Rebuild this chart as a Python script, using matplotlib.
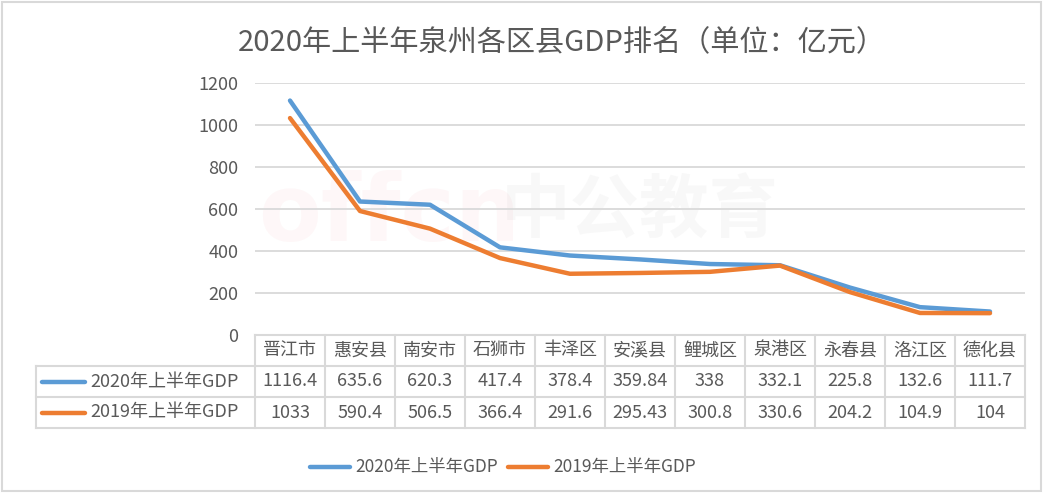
import matplotlib
matplotlib.use("Agg")
import matplotlib.pyplot as plt
import numpy as np

plt.rcParams['font.family'] = ['Noto Sans CJK SC', 'DejaVu Sans']

districts = ['晋江市', '惠安县', '南安市', '石狮市', '丰泽区', '安溪县',
             '鲤城区', '泉港区', '永春县', '洛江区', '德化县']
gdp_2020 = [1116.4, 635.6, 620.3, 417.4, 378.4, 359.84, 338, 332.1, 225.8, 132.6, 111.7]
gdp_2019 = [1033, 590.4, 506.5, 366.4, 291.6, 295.43, 300.8, 330.6, 204.2, 104.9, 104]
gdp_2020_txt = ['1116.4', '635.6', '620.3', '417.4', '378.4', '359.84', '338', '332.1', '225.8', '132.6', '111.7']
gdp_2019_txt = ['1033', '590.4', '506.5', '366.4', '291.6', '295.43', '300.8', '330.6', '204.2', '104.9', '104']
series_names = ['2020年上半年GDP', '2019年上半年GDP']
colors = ['#5B9BD5', '#ED7D31']
text_c = '#595959'
grid_c = '#D9D9D9'

W, H = 1047, 500
fig = plt.figure(figsize=(W / 100, H / 100), dpi=100)

# overlay axes in pixel units for frame, table and legend
ov = fig.add_axes([0, 0, 1, 1])
ov.set_xlim(0, W)
ov.set_ylim(H, 0)
ov.axis('off')
ov.add_patch(plt.Rectangle((1.5, 1.5), 1039, 489, fill=False, ec=grid_c, lw=1.5))

# watermark
ov.text(258, 215, 'offcn', fontsize=66, color='#E8303A', alpha=0.035,
        ha='left', va='center', fontweight='bold', family='DejaVu Sans')
ov.text(640, 212, '中公教育', fontsize=50, color='#808080', alpha=0.05,
        ha='center', va='center', fontweight='bold')

ov.text(562, 42, '2020年上半年泉州各区县GDP排名（单位：亿元）', fontsize=21,
        color=text_c, ha='center', va='center')

# plot area
x0, x1, ytop, ybot = 255, 1025, 83, 335
ax = fig.add_axes([x0 / W, 1 - ybot / H, (x1 - x0) / W, (ybot - ytop) / H])
ax.patch.set_alpha(0)
x = np.arange(len(districts))
ax.plot(x, gdp_2020, color=colors[0], lw=3.2, solid_capstyle='round', zorder=3)
ax.plot(x, gdp_2019, color=colors[1], lw=3.2, solid_capstyle='round', zorder=3)
ax.set_xlim(-0.5, len(districts) - 0.5)
ax.set_ylim(0, 1200)
ax.set_yticks(range(0, 1201, 200))
ax.set_xticks([])
ax.yaxis.grid(True, color=grid_c, lw=1.3)
ax.set_axisbelow(True)
for s in ax.spines.values():
    s.set_visible(False)
ax.tick_params(axis='y', length=0, labelsize=13, labelcolor=text_c, pad=12)

# data table
cw = (x1 - x0) / len(districts)
rows = [335, 366, 397, 428]
lx = 36
for yy in rows[1:]:
    ov.plot([lx, x1], [yy, yy], color=grid_c, lw=1.5)
ov.plot([x0, x1], [rows[0], rows[0]], color=grid_c, lw=1.5)
ov.plot([lx, lx], [rows[1], rows[3]], color=grid_c, lw=1.5)
for i in range(len(districts) + 1):
    xx = x0 + i * cw
    ov.plot([xx, xx], [rows[0], rows[3]], color=grid_c, lw=1.5)

for i, name in enumerate(districts):
    cx = x0 + (i + 0.5) * cw
    ov.text(cx, (rows[0] + rows[1]) / 2, name, fontsize=13, color=text_c, ha='center', va='center')
    ov.text(cx, (rows[1] + rows[2]) / 2, gdp_2020_txt[i], fontsize=13, color=text_c, ha='center', va='center')
    ov.text(cx, (rows[2] + rows[3]) / 2, gdp_2019_txt[i], fontsize=13, color=text_c, ha='center', va='center')

for r, (name, c) in enumerate(zip(series_names, colors)):
    yc = (rows[r + 1] + rows[r + 2]) / 2
    ov.plot([42, 85], [yc, yc], color=c, lw=3.2, solid_capstyle='round')
    ov.text(90, yc, name, fontsize=13, color=text_c, ha='left', va='center')

# bottom legend
for (lx0, name, c) in [(310, series_names[0], colors[0]), (508, series_names[1], colors[1])]:
    ov.plot([lx0, lx0 + 40], [467, 467], color=c, lw=3.2, solid_capstyle='round')
    ov.text(lx0 + 45, 467, name, fontsize=12.5, color=text_c, ha='left', va='center')

fig.savefig('out.png', dpi=100)
